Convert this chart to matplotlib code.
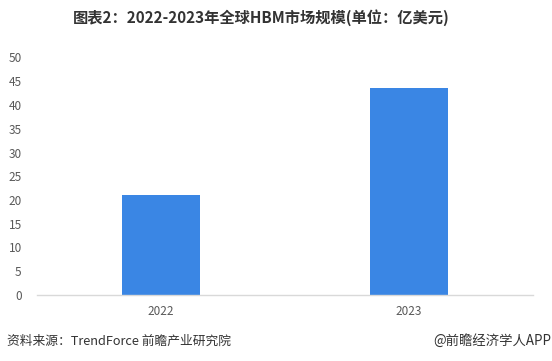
import matplotlib
matplotlib.use("Agg")
import matplotlib.pyplot as plt

plt.rcParams["font.family"] = ["Noto Sans CJK SC", "DejaVu Sans"]

years = ["2022", "2023"]
values = [21.0, 43.5]
yticks = list(range(0, 51, 5))

fig = plt.figure(figsize=(5.52, 3.61), dpi=100)
ax = fig.add_axes([37 / 552, 1 - 295 / 361, 496 / 552, (295 - 57.5) / 361])

ax.bar(years, values, width=0.315, color="#3a86e4")
ax.set_xlim(-0.5, 1.5)
ax.set_ylim(0, 50)
ax.set_yticks(yticks)

for s in ["top", "right", "left"]:
    ax.spines[s].set_visible(False)
ax.spines["bottom"].set_color("#d9d9d9")
ax.spines["bottom"].set_linewidth(1)
ax.tick_params(axis="y", length=0, pad=11, labelsize=8.5, labelcolor="#595959")
ax.tick_params(axis="x", length=0, pad=7, labelsize=8.5, labelcolor="#595959")

fig.text(261 / 552, 1 - 18 / 361, "图表2：2022-2023年全球HBM市场规模(单位：亿美元)",
         ha="center", va="center", fontsize=11, fontweight="bold", color="#333333")
fig.text(7 / 552, 1 - 341 / 361, "资料来源：TrendForce 前瞻产业研究院",
         ha="left", va="center", fontsize=9.2, color="#333333")
fig.text(551 / 552, 1 - 341 / 361, "@前瞻经济学人APP",
         ha="right", va="center", fontsize=9.6, color="#333333")

fig.savefig("out.png", dpi=100)
